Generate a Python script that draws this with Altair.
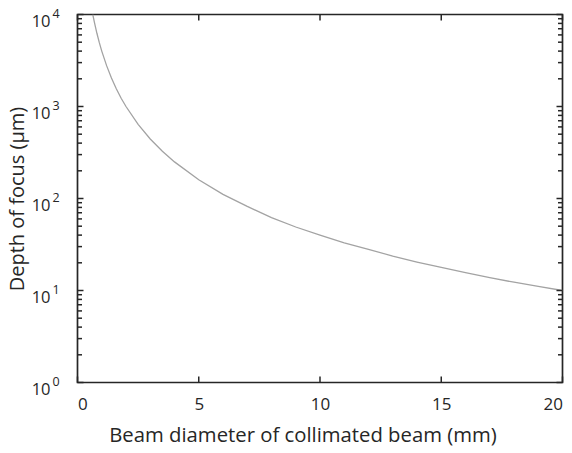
import altair as alt
import pandas as pd

# Data
beam_diameter_mm = [0.63, 0.7, 0.8, 0.9, 1.0, 1.2, 1.4, 1.6, 1.8, 2.0, 2.5, 3.0, 3.5, 4.0,
                    5, 6, 7, 8, 9, 10, 11, 12, 13, 14, 15, 16, 17, 18, 19, 20]
depth_of_focus_um = [10000, 8160, 6250, 4940, 4000, 2780, 2040, 1560, 1230, 1000, 640, 444,
                     327, 250, 160, 111, 82, 62, 49, 40, 33, 28, 23.7, 20.4, 17.8, 15.6,
                     13.8, 12.3, 11.1, 10]
x_ticks = [0, 5, 10, 15, 20]
y_decades = [1, 10, 100, 1000, 10000]
y_exponents = ["0", "1", "2", "3", "4"]
y_minor = [m * d for d in [1, 10, 100, 1000] for m in range(2, 10)]

W, H = 485, 368
INK = "#262626"
FONT = "Open Sans"

df = pd.DataFrame({"x": beam_diameter_mm, "y": depth_of_focus_um})
xt = pd.DataFrame({"x": x_ticks})
yd = pd.DataFrame({"y": y_decades, "e": y_exponents, "base": ["10"] * 5})
ym = pd.DataFrame({"y": y_minor})

xs = alt.Scale(domain=[0, 20], nice=False, zero=False)
ys = alt.Scale(type="log", domain=[1, 10000], nice=False)

line = alt.Chart(df).mark_line(color="#a3a3a3", strokeWidth=1.3, clip=True).encode(
    x=alt.X("x:Q", scale=xs, title="Beam diameter of collimated beam (mm)",
            axis=alt.Axis(values=x_ticks, ticks=False, domain=False, grid=False,
                          labelFontSize=17, labelFont=FONT, labelColor=INK,
                          labelPadding=14, titleFontSize=20.3, titleFont=FONT,
                          titleColor=INK, titleFontWeight="normal", titlePadding=13,
                          titleX=225, titleAlign="center")),
    y=alt.Y("y:Q", scale=ys, title="Depth of focus (µm)",
            axis=alt.Axis(labels=False, ticks=False, domain=False, grid=False,
                          titleFontSize=20, titleFont=FONT, titleColor=INK,
                          titleFontWeight="normal", titlePadding=50)),
)

rule = dict(color=INK, strokeWidth=1.5)
xb = alt.Chart(xt).mark_rule(**rule).encode(
    x=alt.X("x:Q", scale=xs), y=alt.value(H), y2=alt.value(H - 6))
xtp = alt.Chart(xt).mark_rule(**rule).encode(
    x=alt.X("x:Q", scale=xs), y=alt.value(0), y2=alt.value(6))
yl = alt.Chart(yd).mark_rule(**rule).encode(
    y=alt.Y("y:Q", scale=ys), x=alt.value(0), x2=alt.value(6))
yr = alt.Chart(yd).mark_rule(**rule).encode(
    y=alt.Y("y:Q", scale=ys), x=alt.value(W), x2=alt.value(W - 6))
yml = alt.Chart(ym).mark_rule(**rule).encode(
    y=alt.Y("y:Q", scale=ys), x=alt.value(0), x2=alt.value(4.5))
ymr = alt.Chart(ym).mark_rule(**rule).encode(
    y=alt.Y("y:Q", scale=ys), x=alt.value(W), x2=alt.value(W - 4.5))

base_lbl = alt.Chart(yd).mark_text(align="right", baseline="middle", font=FONT,
                                   fontSize=16.5, color=INK, dy=7).encode(
    y=alt.Y("y:Q", scale=ys), x=alt.value(-27), text="base:N")
exp_lbl = alt.Chart(yd).mark_text(align="left", baseline="middle", font=FONT,
                                  fontSize=12.5, color=INK, dy=-1).encode(
    y=alt.Y("y:Q", scale=ys), x=alt.value(-25), text="e:N")

chart = alt.layer(line, xb, xtp, yl, yr, yml, ymr, base_lbl, exp_lbl).properties(
    width=W, height=H,
    autosize=alt.AutoSizeParams(type="none"),
    padding={"left": 77.5, "top": 14.5, "right": 9, "bottom": 70},
    background="white",
).configure_view(stroke=INK, strokeWidth=1.7)

chart.save("out.html", embed_options={"renderer": "svg", "actions": False})
